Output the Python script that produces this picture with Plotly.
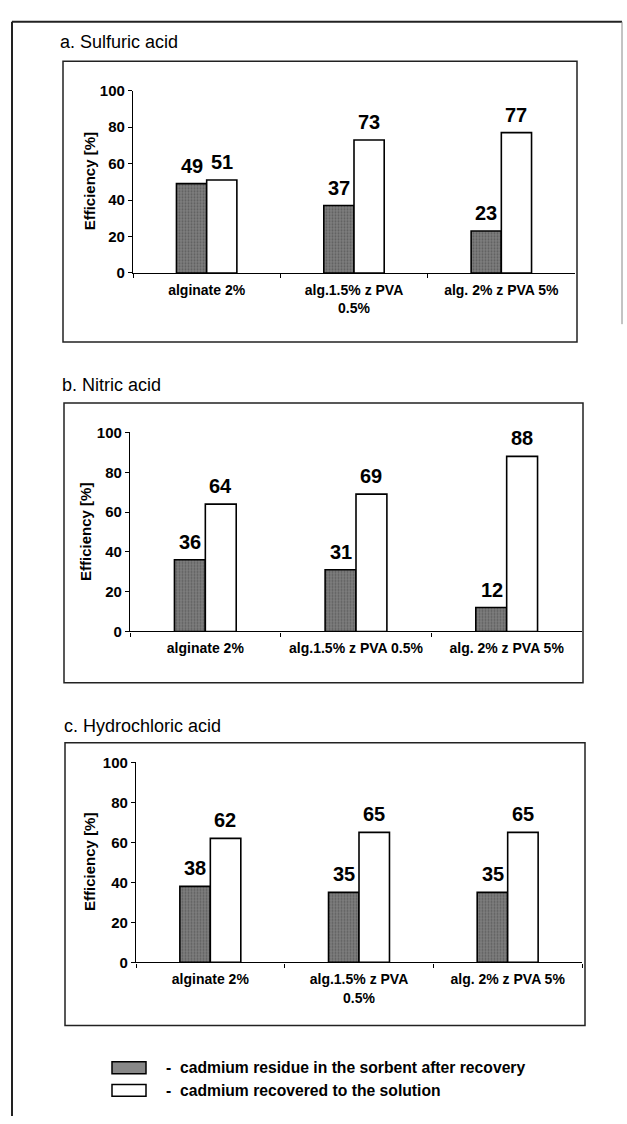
import plotly.graph_objects as go

W, H = 627, 1124

categories_ac = ["alginate 2%", "alg.1.5% z PVA<br>0.5%", "alg. 2% z PVA 5%"]
categories_b = ["alginate 2%", "alg.1.5% z PVA 0.5%", "alg. 2% z PVA 5%"]

sulfuric_residue = [49, 37, 23]
sulfuric_recovered = [51, 73, 77]
nitric_residue = [36, 31, 12]
nitric_recovered = [64, 69, 88]
hydrochloric_residue = [38, 35, 35]
hydrochloric_recovered = [62, 65, 65]

panel_titles = ["a. Sulfuric acid", "b. Nitric acid", "c. Hydrochloric acid"]
series_names = ["cadmium residue in the sorbent after recovery",
                "cadmium recovered to the solution"]
y_title = "Efficiency [%]"
y_ticks = [0, 20, 40, 60, 80, 100]


def px(x):
    return x / W


def py(y):
    return 1 - y / H


FONT = "Liberation Sans, Arial, sans-serif"

# pixel layout of each panel
panels = [
    dict(cats=categories_ac, res=sulfuric_residue, rec=sulfuric_recovered,
         plot=(133, 575, 83, 268), box=(63, 577, 53, 338), title=(58, 33), ytl=(89, 175)),
    dict(cats=categories_b, res=nitric_residue, rec=nitric_recovered,
         plot=(130, 582, 430, 632), box=(64, 583, 400, 684), title=(60, 382), ytl=(86, 531)),
    dict(cats=categories_ac, res=hydrochloric_residue, rec=hydrochloric_recovered,
         plot=(136, 582, 765, 968), box=(65, 585, 745, 1032), title=(62, 728), ytl=(90, 866)),
]

fig = go.Figure()
shapes = []
annotations = []

dark = dict(color="#6e6e6e",
            pattern=dict(shape=".", fgcolor="#3c3c3c", bgcolor="#7e7e7e", size=3, solidity=0.35),
            line=dict(color="black", width=1.6))
white = dict(color="white", line=dict(color="black", width=1.6))

for i, p in enumerate(panels, start=1):
    xa = "x" if i == 1 else f"x{i}"
    ya = "y" if i == 1 else f"y{i}"
    fig.add_trace(go.Bar(x=p["cats"], y=p["res"], marker=dark, xaxis=xa, yaxis=ya,
                         name=series_names[0], showlegend=False))
    fig.add_trace(go.Bar(x=p["cats"], y=p["rec"], marker=white, xaxis=xa, yaxis=ya,
                         name=series_names[1], showlegend=False))
    x0, x1, y0, y1 = p["plot"]
    axis_common = dict(showgrid=False, zeroline=False, showline=True, linecolor="black",
                       linewidth=1.3, ticks="outside", tickcolor="black", ticklen=4,
                       fixedrange=True)
    fig.update_layout(**{
        ("xaxis" if i == 1 else f"xaxis{i}"): dict(
            domain=[px(x0), px(x1)], anchor=ya, tickson="boundaries",
            type="category", tickangle=0, ticklabelstandoff=4,
            tickfont=dict(family=FONT, size=14, color="black", weight="bold"),
            **axis_common),
        ("yaxis" if i == 1 else f"yaxis{i}"): dict(
            domain=[py(y1), py(y0)], anchor=xa, range=[0, 100], tickvals=y_ticks,
            tickfont=dict(family=FONT, size=15, color="black", weight="bold"),
            **axis_common),
    })
    # data labels
    for cat, v in zip(p["cats"], p["res"]):
        annotations.append(dict(x=cat, y=v, xref=xa, yref=ya, text=f"<b>{v}</b>",
                                xshift=-15, yshift=5, yanchor="bottom", showarrow=False,
                                font=dict(family=FONT, size=20, color="black")))
    for cat, v in zip(p["cats"], p["rec"]):
        annotations.append(dict(x=cat, y=v, xref=xa, yref=ya, text=f"<b>{v}</b>",
                                xshift=15, yshift=5, yanchor="bottom", showarrow=False,
                                font=dict(family=FONT, size=20, color="black")))
    # panel box
    bx0, bx1, by0, by1 = p["box"]
    shapes.append(dict(type="rect", xref="paper", yref="paper",
                       x0=px(bx0), x1=px(bx1), y0=py(by1), y1=py(by0),
                       line=dict(color="#222", width=1.5)))
    # panel title
    tx, ty = p["title"]
    annotations.append(dict(x=px(tx), y=py(ty), xref="paper", yref="paper",
                            text=panel_titles[i - 1], xanchor="left", yanchor="middle",
                            showarrow=False, font=dict(family=FONT, size=18, color="black")))
    # y-axis title
    yx, yy = p["ytl"]
    annotations.append(dict(x=px(yx), y=py(yy), xref="paper", yref="paper",
                            text=f"<b>{y_title}</b>", textangle=-90, xanchor="center",
                            yanchor="middle", showarrow=False,
                            font=dict(family=FONT, size=15, color="black")))

# outer page frame
shapes.append(dict(type="line", xref="paper", yref="paper", x0=px(12), x1=px(12),
                   y0=0, y1=py(13), line=dict(color="#222", width=2)))
shapes.append(dict(type="line", xref="paper", yref="paper", x0=px(12), x1=px(622),
                   y0=py(13), y1=py(13), line=dict(color="#222", width=2)))
shapes.append(dict(type="line", xref="paper", yref="paper", x0=px(622), x1=px(622),
                   y0=py(320), y1=py(13), line=dict(color="#888", width=1)))

# legend
leg = [(1075, "#888888"), (1098, "white")]
for (ly, fill), name in zip(leg, series_names):
    shapes.append(dict(type="rect", xref="paper", yref="paper",
                       x0=px(112), x1=px(146), y0=py(ly + 6), y1=py(ly - 6),
                       fillcolor=fill, line=dict(color="black", width=1.5)))
    annotations.append(dict(x=px(164), y=py(ly), xref="paper", yref="paper",
                            text="<b>-  " + name + "</b>", xanchor="left", yanchor="middle",
                            showarrow=False,
                            font=dict(family=FONT, size=15.7, color="black")))

fig.update_layout(
    width=W, height=H, margin=dict(l=0, r=0, t=0, b=0),
    paper_bgcolor="white", plot_bgcolor="white",
    barmode="group", bargap=0.59, bargroupgap=0,
    shapes=shapes, annotations=annotations, showlegend=False,
)

fig.write_html("out.html")
